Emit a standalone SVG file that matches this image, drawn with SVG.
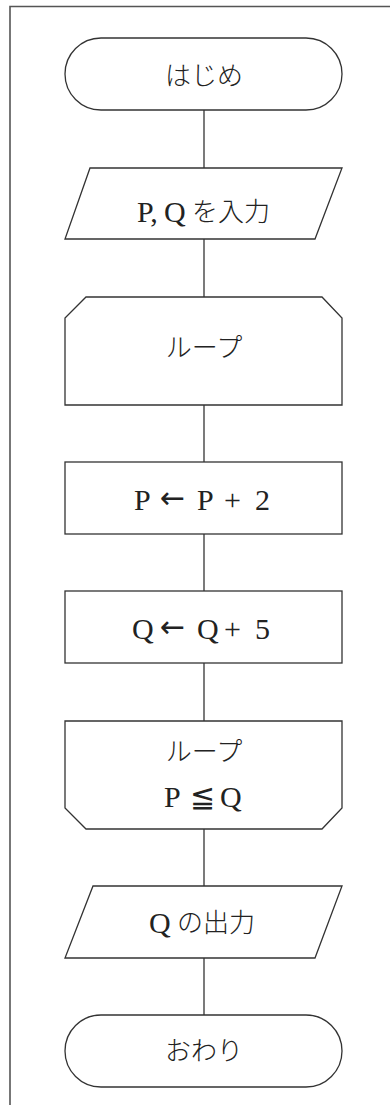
<svg xmlns="http://www.w3.org/2000/svg" width="390" height="1105" viewBox="0 0 390 1105">
<style>
.s{fill:#fff;stroke:#333;stroke-width:1.3}
.c{stroke:#333;stroke-width:1.3;fill:none}
.t{font-family:"Liberation Serif","Noto Sans CJK JP",serif;font-size:27px;fill:#222}
.j{font-family:"Noto Sans CJK JP",sans-serif;font-size:26px;font-weight:300}
.l{font-family:"Liberation Serif",serif;font-size:30px}
.a{font-family:"DejaVu Sans",sans-serif;font-size:30px}
.m{text-anchor:middle}
</style>
<rect width="390" height="1105" fill="#fff"/>
<path d="M10,1105 V6.5 H390" fill="none" stroke="#555" stroke-width="1.6"/>
<g id="connectors">
<line class="c" x1="204" y1="110" x2="204" y2="168"/>
<line class="c" x1="204" y1="239" x2="204" y2="297"/>
<line class="c" x1="204" y1="405" x2="204" y2="462"/>
<line class="c" x1="204" y1="534" x2="204" y2="591"/>
<line class="c" x1="204" y1="663" x2="204" y2="721"/>
<line class="c" x1="204" y1="829" x2="204" y2="886"/>
<line class="c" x1="204" y1="958" x2="204" y2="1015"/>
</g>
<g id="start">
<rect class="s" x="65" y="38" width="277" height="72" rx="36" ry="36"/>
<text class="t j m" x="204" y="85">はじめ</text>
</g>
<g id="input">
<polygon class="s" points="90,168 342,168 315,239 65,239"/>
<text class="t"><tspan class="l" x="137" y="222">P,</tspan><tspan class="l" x="164" y="222">Q</tspan><tspan class="j" x="192" y="221">を入力</tspan></text>
</g>
<g id="loop-start">
<polygon class="s" points="86,297 322,297 342,318 342,405 65,405 65,318"/>
<text class="t j m" x="204" y="357">ループ</text>
</g>
<g id="p-update">
<rect class="s" x="65" y="462" width="277" height="72"/>
<text class="t"><tspan class="l" x="134" y="510">P</tspan><tspan class="a" x="160" y="508">←</tspan><tspan class="l" x="197" y="510">P</tspan><tspan class="l" x="224" y="510">+</tspan><tspan class="l" x="255" y="510">2</tspan></text>
</g>
<g id="q-update">
<rect class="s" x="65" y="591" width="277" height="72"/>
<text class="t"><tspan class="l" x="132" y="639">Q</tspan><tspan class="a" x="160" y="637">←</tspan><tspan class="l" x="197" y="639">Q</tspan><tspan class="l" x="224" y="639">+</tspan><tspan class="l" x="255" y="639">5</tspan></text>
</g>
<g id="loop-end">
<polygon class="s" points="65,721 342,721 342,808 322,829 86,829 65,808"/>
<text class="t j m" x="204" y="761">ループ</text>
<text class="t"><tspan class="l" x="164" y="807">P</tspan><tspan class="a" x="190" y="807">≦</tspan><tspan class="l" x="220" y="807">Q</tspan></text>
</g>
<g id="output">
<polygon class="s" points="93,886 342,886 315,958 65,958"/>
<text class="t"><tspan class="l" x="149" y="933">Q</tspan><tspan class="j" x="177" y="932">の出力</tspan></text>
</g>
<g id="end">
<rect class="s" x="65" y="1015" width="277" height="72" rx="36" ry="36"/>
<text class="t j m" x="204" y="1060">おわり</text>
</g>
</svg>
